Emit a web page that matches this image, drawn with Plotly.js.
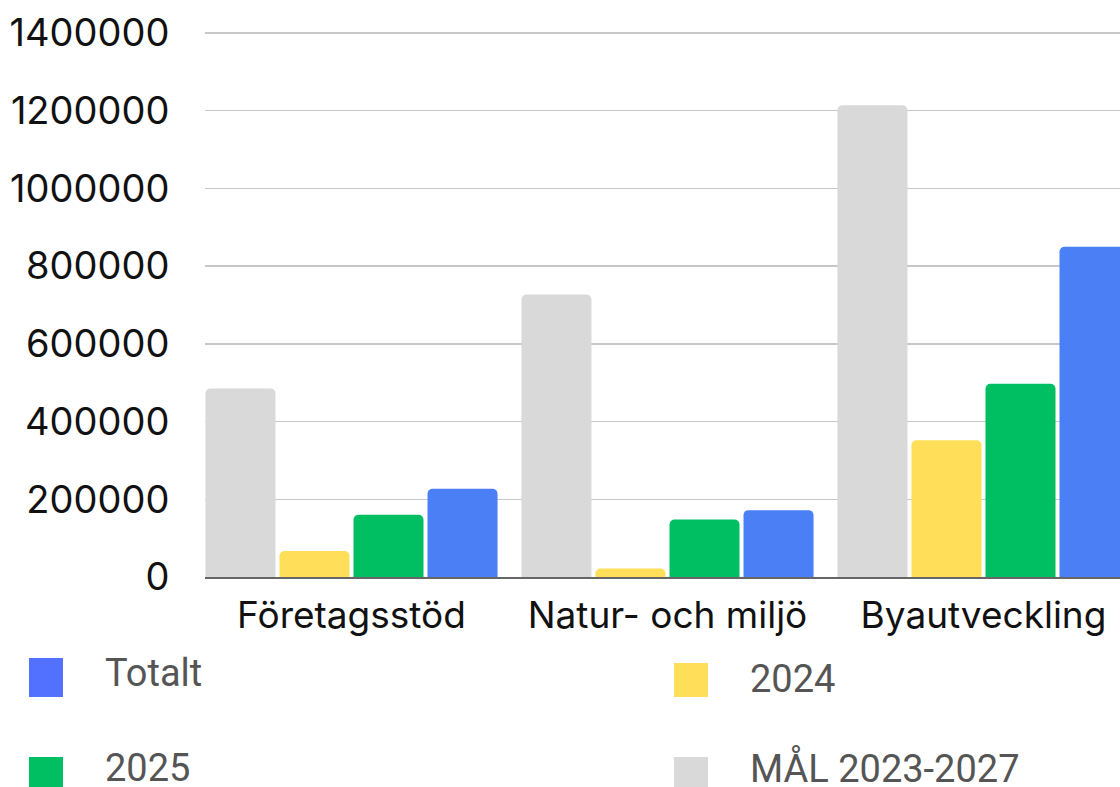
<!DOCTYPE html>
<html>
<head>
<meta charset="utf-8">
<script src="https://cdn.plot.ly/plotly-3.0.1.min.js"></script>
<style>
html,body{margin:0;padding:0;background:#fff;overflow:hidden;}
#chart{width:1120px;height:787px;}
</style>
</head>
<body>
<div id="chart"></div>
<script>
// ---- data ----
const categories = ["Företagsstöd", "Natur- och miljö", "Byautveckling"];
const seriesNames = ["MÅL 2023-2027", "2024", "2025", "Totalt"];
const malValues = [485000, 727000, 1214000];
const y2024Values = [67000, 22000, 352000];
const y2025Values = [160000, 148000, 497000];
const totaltValues = [227000, 172000, 850000];
const yTickValues = [0, 200000, 400000, 600000, 800000, 1000000, 1200000, 1400000];
const yTickLabels = ["0", "200000", "400000", "600000", "800000", "1000000", "1200000", "1400000"];

// ---- styles ----
const barColors = ["#d9d9d9", "#ffde59", "#00bf63", "#4a7ff6"];
const legendColors = ["#d9d9d9", "#ffde59", "#00bf63", "#5271ff"];
const allValues = [malValues, y2024Values, y2025Values, totaltValues];

const traces = seriesNames.map((name, i) => ({
  type: "bar",
  name: name,
  x: categories,
  y: allValues[i],
  marker: {color: barColors[i], cornerradius: 5, line: {width: 0}},
  hoverinfo: "x+y+name",
  showlegend: false
}));

// plot area in pixels
const L = 205, R = 1120, T = 31, B = 577;
const px = v => (v - L) / (R - L);
const py = v => (B - v) / (B - T);

// custom legend: [seriesIndex, squareX, squareTop, squareBottom, textX, textCenterY]
const legendSpec = [
  [3, 29, 658, 697, 103, 673],
  [1, 674, 663, 697, 748, 679],
  [2, 29, 757, 796, 103, 768],
  [0, 674, 757, 796, 748, 768]
];
const shapes = [];
const annotations = [];
legendSpec.forEach(s => {
  const [i, sx, st, sb, tx, ty] = s;
  shapes.push({type: "rect", xref: "paper", yref: "paper",
    x0: px(sx), x1: px(sx + 34), y0: py(sb), y1: py(st),
    fillcolor: legendColors[i], line: {width: 0}, layer: "above"});
  annotations.push({xref: "paper", yref: "paper", x: px(tx), y: py(ty),
    xanchor: "left", yanchor: "middle", showarrow: false,
    text: seriesNames[i],
    font: {family: "Roboto", size: 38, color: "#555555"}});
});

const layout = {
  width: 1120, height: 787,
  margin: {l: L, r: 1120 - R, t: T, b: 787 - B, pad: 0},
  paper_bgcolor: "#ffffff", plot_bgcolor: "#ffffff",
  barmode: "group",
  bargap: 0.063,
  bargroupgap: 0.054,
  showlegend: false,
  xaxis: {
    type: "category",
    range: [-0.4636, 2.432],
    showgrid: false,
    showline: true, linecolor: "#666666", linewidth: 1.5,
    ticks: "outside", ticklen: 5, tickcolor: "rgba(0,0,0,0)",
    tickfont: {family: "Inter", size: 37, color: "#111111"},
    fixedrange: true
  },
  yaxis: {
    range: [0, 1405000],
    tickvals: yTickValues, ticktext: yTickLabels,
    showgrid: true, gridcolor: "#c8c8c8", gridwidth: 1.5,
    zeroline: false, showline: false,
    ticks: "outside", ticklen: 27, tickcolor: "rgba(0,0,0,0)",
    tickfont: {family: "Inter", size: 38, color: "#111111"},
    fixedrange: true
  },
  shapes: shapes,
  annotations: annotations
};

Plotly.newPlot("chart", traces, layout, {displayModeBar: false, staticPlot: true});
</script>
</body>
</html>
